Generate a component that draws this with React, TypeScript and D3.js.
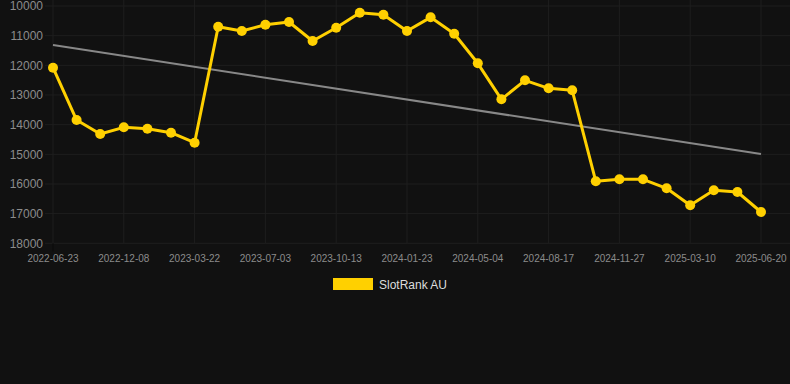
import React from "react";
import * as d3 from "d3";

const dates = [
  "2022-06-23", "2022-08-18", "2022-10-13", "2022-12-08", "2023-01-12", "2023-02-16",
  "2023-03-22", "2023-04-25", "2023-05-30", "2023-07-03", "2023-08-06", "2023-09-09",
  "2023-10-13", "2023-11-16", "2023-12-20", "2024-01-23", "2024-02-26", "2024-03-31",
  "2024-05-04", "2024-06-08", "2024-07-13", "2024-08-17", "2024-09-20", "2024-10-24",
  "2024-11-27", "2024-12-31", "2025-02-04", "2025-03-10", "2025-04-13", "2025-05-17",
  "2025-06-20",
];
const values = [
  12080, 13844, 14316, 14090, 14137, 14272, 14610, 10697, 10843, 10630, 10539, 11180,
  10731, 10226, 10293, 10843, 10382, 10934, 11932, 13146, 12505, 12775, 12842, 15911,
  15843, 15843, 16147, 16720, 16214, 16271, 16945,
];
const yTicks = [10000, 11000, 12000, 13000, 14000, 15000, 16000, 17000, 18000];
const seriesName = "SlotRank AU";

const W = 790, H = 384;
const left = 53, right = 761, top = 6, bottom = 243.3;

export default function App() {
  const x = d3.scaleLinear().domain([0, dates.length - 1]).range([left, right]);
  const y = d3.scaleLinear().domain([10000, 18000]).range([top, bottom]);

  const n = values.length;
  const mx = d3.mean(values.map((_, i) => i))!;
  const my = d3.mean(values)!;
  let sxy = 0, sxx = 0;
  values.forEach((v, i) => { sxy += (i - mx) * (v - my); sxx += (i - mx) ** 2; });
  const slope = sxy / sxx;
  const icpt = my - slope * mx;
  const trend: [number, number][] = [[0, icpt], [n - 1, icpt + slope * (n - 1)]];

  const line = d3.line<number>().x((_, i) => x(i)).y((v) => y(v));
  const tline = d3.line<[number, number]>().x((d) => x(d[0])).y((d) => y(d[1]));
  const labelIdx = dates.map((_, i) => i).filter((i) => i % 3 === 0);
  const grid = "#1e1e1e";
  const font = "Liberation Sans, Arial, sans-serif";

  return (
    <svg width={W} height={H} style={{ position: "absolute", left: 0, top: 0, background: "#111111" }}>
      <rect x={0} y={0} width={W} height={H} fill="#111111" />
      {yTicks.map((t) => (
        <g key={t}>
          <line x1={45} x2={W} y1={y(t)} y2={y(t)} stroke={grid} strokeWidth={1} />
          <text x={43} y={y(t)} dy="0.35em" textAnchor="end" fill="#8c8c8c" fontSize={12} fontFamily={font}>{t}</text>
        </g>
      ))}
      {labelIdx.map((i) => (
        <g key={i}>
          <line x1={x(i)} x2={x(i)} y1={0} y2={bottom} stroke={grid} strokeWidth={1} />
          <text x={x(i)} y={262} textAnchor="middle" fill="#8c8c8c" fontSize={10} fontFamily={font}>{dates[i]}</text>
        </g>
      ))}
      <line x1={left} x2={left} y1={bottom} y2={bottom + 8} stroke="#0a0a0a" strokeWidth={1} />
      <path d={tline(trend)!} fill="none" stroke="#888888" strokeWidth={2} />
      <path d={line(values)!} fill="none" stroke="#FFD000" strokeWidth={3} strokeLinejoin="round" />
      {values.map((v, i) => (
        <circle key={i} cx={x(i)} cy={y(v)} r={5} fill="#FFD000" />
      ))}
      <rect x={333} y={278} width={40} height={12} fill="#FFD000" />
      <text x={379} y={288.5} fill="#dddddd" fontSize={12} fontFamily={font}>{seriesName}</text>
    </svg>
  );
}
